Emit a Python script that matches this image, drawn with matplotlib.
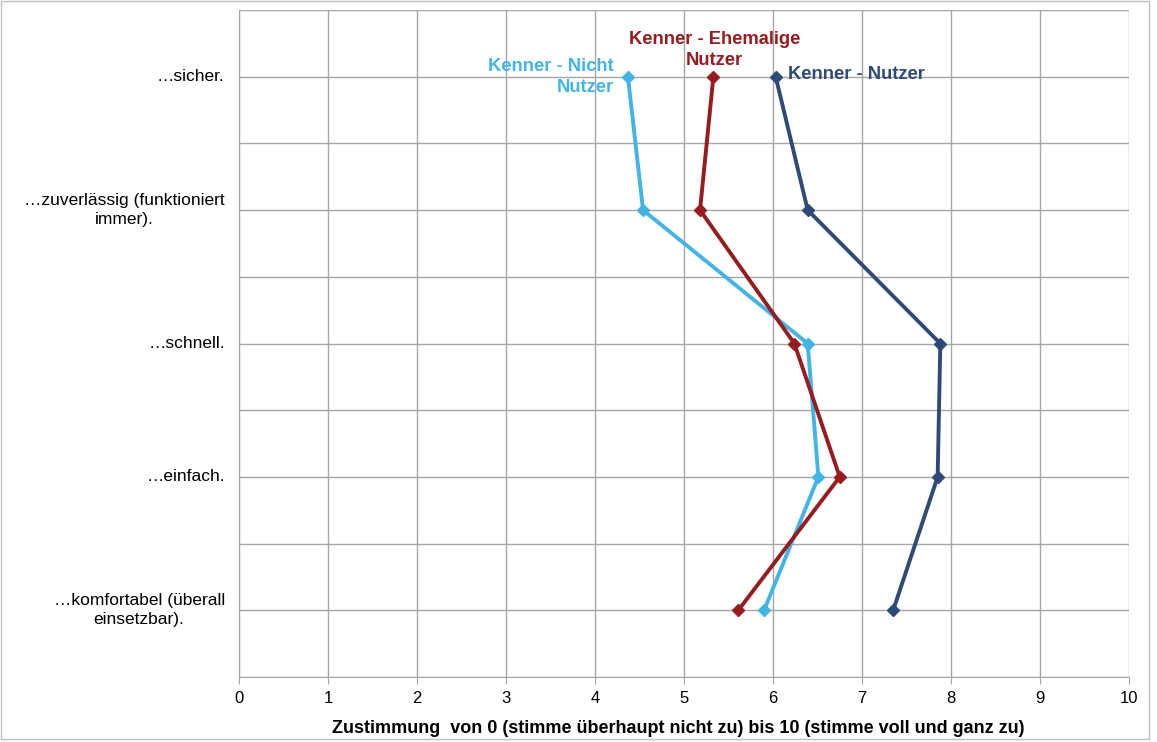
import matplotlib
matplotlib.use("Agg")
import matplotlib.pyplot as plt
from matplotlib.patches import Rectangle

plt.rcParams['font.family'] = ['Liberation Sans', 'DejaVu Sans']

categories = ["…sicher.", "…zuverlässig (funktioniert\nimmer).", "…schnell.",
              "…einfach.", "…komfortabel (überall\neinsetzbar)."]
cat_pos = [9, 7, 5, 3, 1]
nutzer = [6.03, 6.39, 7.88, 7.85, 7.35]
ehemalige = [5.33, 5.18, 6.24, 6.75, 5.61]
nicht_nutzer = [4.37, 4.54, 6.39, 6.51, 5.90]
xticks = list(range(0, 11))
xlabel = "Zustimmung  von 0 (stimme überhaupt nicht zu) bis 10 (stimme voll und ganz zu)"

c_nutzer = "#2E4B78"
c_ehem = "#981B1E"
c_nicht = "#41B4E8"

fig = plt.figure(figsize=(11.57, 7.42), dpi=100)
ax = fig.add_axes([239/1157, 1-677/742, (1129-239)/1157, (677-10)/742])

for vals, col in [(nicht_nutzer, c_nicht), (ehemalige, c_ehem), (nutzer, c_nutzer)]:
    ax.plot(vals, cat_pos, color=col, lw=2.8, marker="D", ms=6.5, zorder=3)

ax.set_xlim(0, 10)
ax.set_ylim(0, 10)
ax.set_xticks(xticks)
ax.set_xticklabels([str(t) for t in xticks], fontsize=12)
ax.set_yticks(range(0, 11), minor=False)
ax.set_yticklabels([])
ax.grid(True, color="#A6A6A6", lw=1.0)
ax.tick_params(axis="y", length=0)
ax.tick_params(axis="x", length=5, color="#A6A6A6", pad=5)
for s in ["top", "right"]:
    ax.spines[s].set_visible(False)
ax.spines["left"].set_color("#A6A6A6")
ax.spines["bottom"].set_color("#A6A6A6")
ax.set_axisbelow(True)

for lab, p in zip(categories, cat_pos):
    ax.text(-0.16, p, lab, ha="right", va="center", multialignment="center",
            fontsize=12.5, linespacing=1.3)

ax.set_xlabel(xlabel, fontsize=13, fontweight="bold")
ax.xaxis.set_label_coords((678-239)/890, -(720-677)/667)

ax.text(4.21, 9.0, "Kenner - Nicht\nNutzer", color=c_nicht, fontsize=13.2,
        fontweight="bold", ha="right", va="center", multialignment="right",
        linespacing=1.3)
ax.text(5.34, 9.4, "Kenner - Ehemalige\nNutzer", color=c_ehem, fontsize=13.2,
        fontweight="bold", ha="center", va="center", linespacing=1.3)
ax.text(6.17, 9.03, "Kenner - Nutzer", color=c_nutzer, fontsize=13.2,
        fontweight="bold", ha="left", va="center")

fig.patches.append(Rectangle((0.001, 0.004), 0.992, 0.995, transform=fig.transFigure,
                             fill=False, edgecolor="#BFBFBF", lw=1))

fig.savefig("out.png", dpi=100)
